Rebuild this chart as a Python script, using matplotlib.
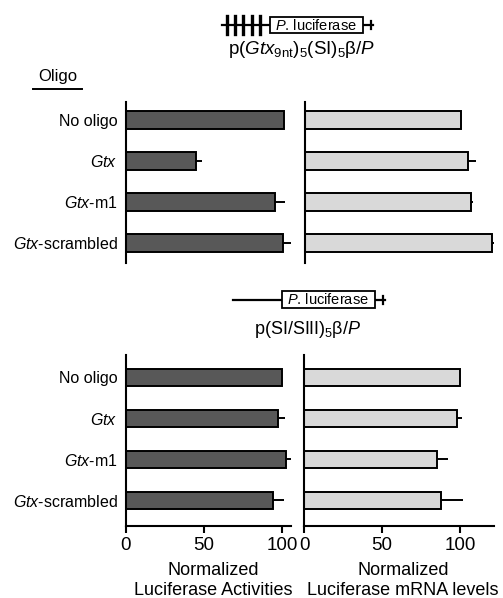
import numpy as np
import matplotlib
matplotlib.use("Agg")
import matplotlib.pyplot as plt
from matplotlib.patches import Rectangle

plt.rcParams['font.family'] = ['Liberation Sans', 'DejaVu Sans']
plt.rcParams['mathtext.fontset'] = 'custom'
plt.rcParams['mathtext.rm'] = 'Liberation Sans'
plt.rcParams['mathtext.it'] = 'Liberation Sans:italic'
plt.rcParams['mathtext.bf'] = 'Liberation Sans:bold'

# data
oligos = ['No oligo', r'$\mathit{Gtx}$', r'$\mathit{Gtx}$-m1', r'$\mathit{Gtx}$-scrambled']
top_act = [101, 45, 95.5, 100.6]
top_act_err = [0, 3.5, 6.5, 6.4]
top_mrna = [100, 104.6, 106.4, 119.6]
top_mrna_err = [0, 4.9, 1.3, 1.5]
bot_act = [100, 97.5, 102.6, 94.4]
bot_act_err = [0, 4.5, 5.4, 6.6]
bot_mrna = [100, 97.8, 85.4, 88]
bot_mrna_err = [0, 3.8, 6.6, 14]

W, H = 503, 598
fig = plt.figure(figsize=(W / 100, H / 100), dpi=100, facecolor='white')

def px_axes(x0, y0, x1, y1):
    # pixel box (top-down) -> figure fraction
    return fig.add_axes([x0 / W, 1 - y1 / H, (x1 - x0) / W, (y1 - y0) / H])

DARK = '#585858'
LIGHT = '#d9d9d9'

def panel(ax, vals, errs, color, xmax, ylim, labels, bottom):
    y = np.arange(len(vals))
    ax.barh(y, vals, height=0.42, color=color, edgecolor='black', linewidth=1.4)
    ax.errorbar(vals, y, xerr=[np.zeros(len(errs)), errs], fmt='none',
                ecolor='black', elinewidth=1.4, capsize=0)
    ax.set_xlim(0, xmax)
    ax.set_ylim(*ylim)
    ax.set_yticks(y)
    if labels:
        ax.set_yticklabels(oligos, fontsize=11.5)
    else:
        ax.set_yticklabels([])
    ax.tick_params(axis='y', length=0, pad=6)
    for s in ['top', 'right']:
        ax.spines[s].set_visible(False)
    ax.spines['left'].set_linewidth(1.5)
    if bottom:
        ax.spines['bottom'].set_linewidth(1.5)
        ax.set_xticks([0, 50, 100])
        ax.tick_params(axis='x', length=5, width=1.5, labelsize=13.5, pad=3)
    else:
        ax.spines['bottom'].set_visible(False)
        ax.set_xticks([])

top_ylim = (3.49, -0.44)
bot_ylim = (3.63, -0.54)

ax1 = px_axes(126, 102, 126 + 106 * 1.56, 263)
panel(ax1, top_act, top_act_err, DARK, 106, top_ylim, True, False)
ax2 = px_axes(305, 102, 305 + 122 * 1.56, 263)
panel(ax2, top_mrna, top_mrna_err, LIGHT, 122, top_ylim, False, False)
ax3 = px_axes(126, 355, 126 + 106 * 1.56, 526)
panel(ax3, bot_act, bot_act_err, DARK, 106, bot_ylim, True, True)
ax3.set_xlabel('Normalized\nLuciferase Activities', fontsize=13, linespacing=1.25, va='top')
ax3.xaxis.set_label_coords(0.53, -0.21)
ax4 = px_axes(304, 355, 304 + 122 * 1.56, 526)
panel(ax4, bot_mrna, bot_mrna_err, LIGHT, 122, bot_ylim, False, True)
ax4.set_xlabel('Normalized\nLuciferase mRNA levels', fontsize=13, linespacing=1.25, va='top')
ax4.xaxis.set_label_coords(0.52, -0.21)

# schematic overlay in pixel coordinates
ov = fig.add_axes([0, 0, 1, 1], facecolor='none')
ov.set_xlim(0, W)
ov.set_ylim(H, 0)
ov.axis('off')

# construct 1
ov.plot([222, 373], [25, 25], color='black', lw=1.6, zorder=1)
for xh in [227, 235, 243, 252, 260]:
    ov.plot([xh, xh], [16, 34], color='black', lw=2.4, zorder=1)
ov.plot([371, 371], [21, 29], color='black', lw=1.6, zorder=1)
ov.add_patch(Rectangle((270, 17), 93, 16, facecolor='white', edgecolor='black', lw=1.3, zorder=3))
ov.text(316, 25.5, r'$\mathit{P}$. luciferase', ha='center', va='center', fontsize=10.5, zorder=4)
ov.text(302, 50, r'p($\mathit{Gtx}_{\mathrm{9nt}}$)$_5$(SI)$_5$β/$\mathit{P}$',
        ha='center', va='center', fontsize=13.5)

# construct 2
ov.plot([233, 385], [300, 300], color='black', lw=1.6, zorder=1)
ov.plot([383, 383], [296, 304], color='black', lw=1.6, zorder=1)
ov.add_patch(Rectangle((282, 291), 93, 17, facecolor='white', edgecolor='black', lw=1.3, zorder=3))
ov.text(328, 299.5, r'$\mathit{P}$. luciferase', ha='center', va='center', fontsize=10.5, zorder=4)
ov.text(308, 329, r'p(SI/SIII)$_5$β/$\mathit{P}$', ha='center', va='center', fontsize=13)

# Oligo header
ov.text(58, 76, 'Oligo', ha='center', va='center', fontsize=12)
ov.plot([33, 82], [88.5, 88.5], color='black', lw=1.4)

fig.savefig('out.png', dpi=100, facecolor='white')
